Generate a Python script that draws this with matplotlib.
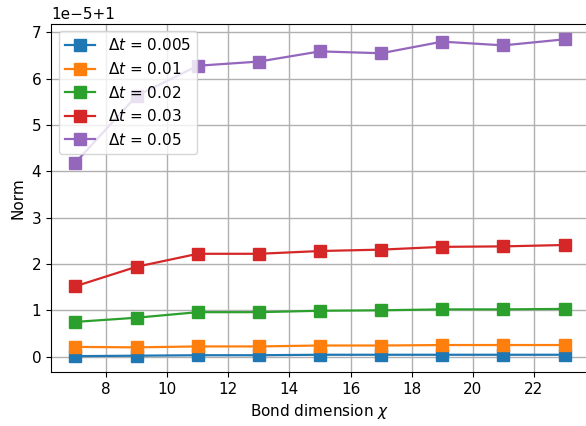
import matplotlib
matplotlib.use('Agg')
import matplotlib.pyplot as plt
import numpy as np

plt.rcParams['font.size'] = 11

# bond dimensions and norm deviations (in units of 1e-5, offset +1)
chi = [7, 9, 11, 13, 15, 17, 19, 21, 23]
dt_labels = ['0.005', '0.01', '0.02', '0.03', '0.05']
norm_005 = [0.01, 0.02, 0.03, 0.03, 0.04, 0.04, 0.04, 0.04, 0.04]
norm_01 = [0.21, 0.20, 0.22, 0.22, 0.24, 0.24, 0.25, 0.25, 0.25]
norm_02 = [0.75, 0.84, 0.96, 0.96, 0.99, 1.00, 1.02, 1.02, 1.03]
norm_03 = [1.52, 1.94, 2.22, 2.22, 2.28, 2.31, 2.37, 2.38, 2.41]
norm_05 = [4.19, 5.63, 6.28, 6.37, 6.59, 6.55, 6.80, 6.72, 6.85]

series = [norm_005, norm_01, norm_02, norm_03, norm_05]

fig, ax = plt.subplots(figsize=(5.86, 4.26), dpi=100)
fig.subplots_adjust(left=51/586, right=589/586, top=1-23.5/426, bottom=1-372/426)

for lab, vals in zip(dt_labels, series):
    y = 1 + np.array(vals) * 1e-5
    ax.plot(chi, y, 's-', markersize=8, linewidth=1.6, label=rf'$\Delta t$ = {lab}')

ax.set_xlabel(r'Bond dimension $\chi$')
ax.set_ylabel('Norm')
ax.grid(True, linewidth=1.0)
ax.legend(loc='upper left')

fig.savefig('out.png', dpi=100)
